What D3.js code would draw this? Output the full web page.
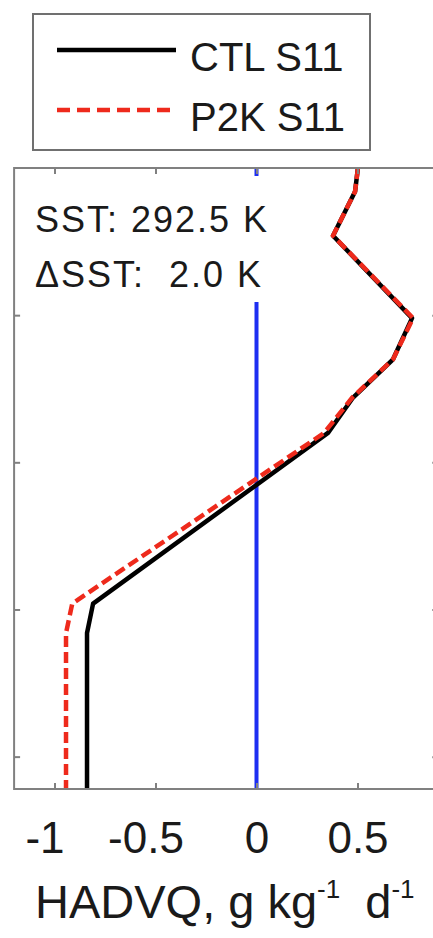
<!DOCTYPE html>
<html>
<head>
<meta charset="utf-8">
<script src="https://cdn.jsdelivr.net/npm/d3@7"></script>
<style>
  body { margin: 0; background: #fff; }
  text { font-family: "Liberation Sans", Arial, Helvetica, sans-serif; fill: #1a1a1a; }
</style>
</head>
<body>
<div id="vis"></div>
<script>
// vertical levels (hPa) and the two profiles
var levels = [800, 808, 823, 851, 865, 878, 890, 948, 958, 980, 1000, 1011];
var ctlS11 = [0.502, 0.488, 0.379, 0.770, 0.676, 0.478, 0.354, -0.809, -0.839, -0.839, -0.839, -0.839];
var p2kS11 = [0.502, 0.488, 0.379, 0.775, 0.676, 0.474, 0.335, -0.912, -0.943, -0.943, -0.943, -0.943];
var xTicks = [-1, -0.5, 0, 0.5];
var yTicks = [850, 900, 950, 1000];
var seriesNames = ["CTL S11", "P2K S11"];
var sst = "SST: 292.5 K";
var dsst = "\u0394SST:  2.0 K";

var W = 433, H = 938;
var font = '"Liberation Sans", Arial, Helvetica, sans-serif';
var frameColor = "#808080";

var svg = d3.select("#vis").append("svg")
    .attr("width", W).attr("height", H);

var x = d3.scaleLinear().domain([-1.2, 0.9]).range([14.1, 438.3]);
var y = d3.scaleLinear().domain([800, 1011]).range([168, 789]);

var ctl = levels.map(function (p, i) { return { p: p, v: ctlS11[i] }; });
var p2k = levels.map(function (p, i) { return { p: p, v: p2kS11[i] }; });

svg.append("defs").append("clipPath").attr("id", "plotclip")
    .append("rect")
    .attr("x", x(-1.2)).attr("y", y(800))
    .attr("width", x(0.9) - x(-1.2)).attr("height", y(1011) - y(800));

var plot = svg.append("g").attr("clip-path", "url(#plotclip)");

// zero line
plot.append("line")
    .attr("x1", x(0)).attr("x2", x(0))
    .attr("y1", y(800)).attr("y2", y(1011))
    .attr("stroke", "#1d2ef2").attr("stroke-width", 4);

var line = d3.line()
    .x(function (d) { return x(d.v); })
    .y(function (d) { return y(d.p); });

plot.append("path").datum(ctl)
    .attr("d", line)
    .attr("fill", "none")
    .attr("stroke", "#000").attr("stroke-width", 4.5)
    .attr("stroke-linejoin", "round");

plot.append("path").datum(p2k)
    .attr("d", line)
    .attr("fill", "none")
    .attr("stroke", "#ee2a1c").attr("stroke-width", 4.5)
    .attr("stroke-dasharray", "11,5");

// annotation with white background
svg.append("rect")
    .attr("x", 22).attr("y", 176).attr("width", 262).attr("height", 126)
    .attr("fill", "#fff");

svg.append("text")
    .attr("x", 35).attr("y", 232)
    .style("font-size", "36px").style("letter-spacing", "2px")
    .text(sst);
svg.append("text")
    .attr("x", 35).attr("y", 287)
    .style("font-size", "36px").style("letter-spacing", "2px")
    .style("white-space", "pre")
    .text(dsst);

// frame
svg.append("rect")
    .attr("x", x(-1.2)).attr("y", y(800))
    .attr("width", x(0.9) - x(-1.2)).attr("height", y(1011) - y(800))
    .attr("fill", "none").attr("stroke", frameColor).attr("stroke-width", 2);

function styleAxis(g) {
    g.select(".domain").remove();
    g.selectAll(".tick line").attr("stroke", frameColor).attr("stroke-width", 2);
}

var bottom = svg.append("g")
    .attr("transform", "translate(0," + y(1011) + ")")
    .call(d3.axisBottom(x).tickValues(xTicks).tickSize(-6).tickPadding(33)
        .tickFormat(function (d) { return String(d); }))
    .call(styleAxis);
bottom.selectAll(".tick text")
    .attr("dx", function (d) { return d < 0 ? -10 : 0; })
    .style("font-size", "44px")
    .style("font-family", font)
    .attr("fill", "#1a1a1a");

svg.append("g")
    .attr("transform", "translate(0," + y(800) + ")")
    .call(d3.axisTop(x).tickValues(xTicks).tickSize(-6).tickFormat(""))
    .call(styleAxis);

svg.append("g")
    .attr("transform", "translate(" + x(-1.2) + ",0)")
    .call(d3.axisLeft(y).tickValues(yTicks).tickSize(-6).tickFormat(""))
    .call(styleAxis);

svg.append("g")
    .attr("transform", "translate(" + x(0.9) + ",0)")
    .call(d3.axisRight(y).tickValues(yTicks).tickSize(-6).tickFormat(""))
    .call(styleAxis);

// x label with superscripts
var xl = svg.append("text")
    .attr("x", 35).attr("y", 918)
    .style("font-size", "47px");
xl.append("tspan").text("HADVQ, g kg");
xl.append("tspan").attr("dy", -20).style("font-size", "26px").text("-1");
xl.append("tspan").attr("dy", 20).attr("dx", 12).text(" d");
xl.append("tspan").attr("dy", -20).style("font-size", "26px").text("-1");

// legend
var legend = svg.append("g");
legend.append("rect")
    .attr("x", 33).attr("y", 14).attr("width", 337).attr("height", 136)
    .attr("fill", "#fff").attr("stroke", "#707070").attr("stroke-width", 2);

var legendItems = [
    { name: seriesNames[0], color: "#000", dash: null, y: 50 },
    { name: seriesNames[1], color: "#ee2a1c", dash: "13,7", y: 110 }
];
legendItems.forEach(function (d) {
    legend.append("line")
        .attr("x1", 57).attr("x2", 176)
        .attr("y1", d.y).attr("y2", d.y)
        .attr("stroke", d.color).attr("stroke-width", 4.5)
        .attr("stroke-dasharray", d.dash);
    legend.append("text")
        .attr("x", 190).attr("y", d.y + 21)
        .style("font-size", "40px")
        .text(d.name);
});
</script>
</body>
</html>
